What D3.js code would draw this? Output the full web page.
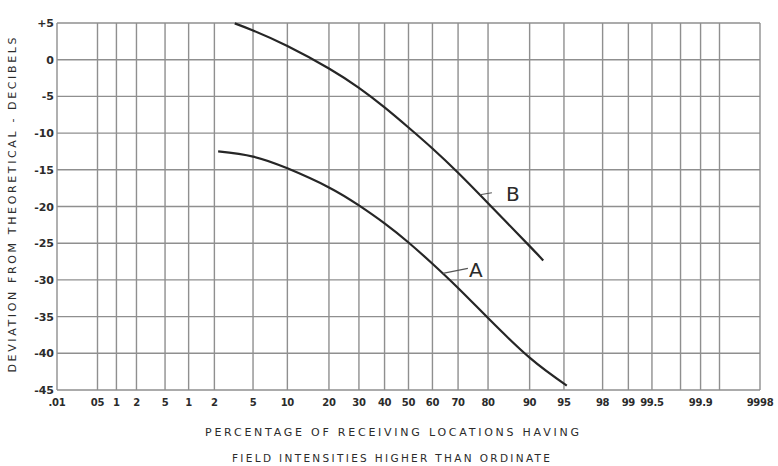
<!DOCTYPE html>
<html>
<head>
<meta charset="utf-8">
<script src="https://cdn.jsdelivr.net/npm/d3@7"></script>
<style>
  body { margin: 0; background: #fff; }
  text { font-family: "DejaVu Sans", sans-serif; fill: #2b2b2b; }
</style>
</head>
<body>
<div id="canvas"></div>
<script>
// probability-paper chart: deviation vs percentage of locations

// x gridlines (percent) and the labels printed under them
var gridPct = [0.01, 0.05, 0.1, 0.2, 0.5, 1, 2, 5, 10, 20, 30, 40, 50, 60, 70, 80, 90, 95, 98, 99, 99.5, 99.8, 99.9, 99.95, 99.99];
var labelPct = [0.01, 0.05, 0.1, 0.2, 0.5, 1, 2, 5, 10, 20, 30, 40, 50, 60, 70, 80, 90, 95, 98, 99, 99.5, 99.9, 99.99];
var labelText = ['.01', '05', '1', '2', '5', '1', '2', '5', '10', '20', '30', '40', '50', '60', '70', '80', '90', '95', '98', '99', '99.5', '99.9', '9998'];

// y ticks (dB)
var yTicks = [5, 0, -5, -10, -15, -20, -25, -30, -35, -40, -45];
var yLabels = ['+5', '0', '-5', '-10', '-15', '-20', '-25', '-30', '-35', '-40', '-45'];

// curve A
var pctA = [2.2, 5, 10, 20, 30, 40, 50, 60, 70, 80, 90, 95.3];
var devA = [-12.5, -13.2, -14.8, -17.4, -19.85, -22.3, -24.9, -27.8, -31.1, -35.2, -40.6, -44.4];

// curve B
var pctB = [3.3, 5, 10, 20, 30, 40, 50, 60, 70, 80, 90, 92.3];
var devB = [4.95, 3.98, 1.87, -1.2, -3.84, -6.5, -9.24, -12.1, -15.4, -19.55, -25.4, -27.35];

// where the label leaders touch the curves
var labA = {pct: 64.2, dev: -29.1, name: 'A'};
var labB = {pct: 77.5, dev: -18.4, name: 'B'};

var outerWidth = 778, outerHeight = 466;
var m = {t:23, r:18, b:76, l:57};
var w = outerWidth - m.l - m.r,
    h = outerHeight - m.t - m.b;

// inverse normal cdf (Acklam)
function probit(p){
  var a = [-39.69683028665376, 220.9460984245205, -275.9285104469687, 138.3577518672690, -30.66479806614716, 2.506628277459239],
      b = [-54.47609879822406, 161.5858368580409, -155.6989798598866, 66.80131188771972, -13.28068155288572],
      c = [-0.007784894002430293, -0.3223964580411365, -2.400758277161838, -2.549732539343734, 4.374664141464968, 2.938163982698783],
      d = [0.007784695709041462, 0.3224671290700398, 2.445134137142996, 3.754408661907416];
  var q, r, pl = 0.02425;
  if (p < pl){
    q = Math.sqrt(-2*Math.log(p));
    return (((((c[0]*q+c[1])*q+c[2])*q+c[3])*q+c[4])*q+c[5]) / ((((d[0]*q+d[1])*q+d[2])*q+d[3])*q+1);
  }
  if (p > 1 - pl){
    q = Math.sqrt(-2*Math.log(1-p));
    return -(((((c[0]*q+c[1])*q+c[2])*q+c[3])*q+c[4])*q+c[5]) / ((((d[0]*q+d[1])*q+d[2])*q+d[3])*q+1);
  }
  q = p - 0.5; r = q*q;
  return (((((a[0]*r+a[1])*r+a[2])*r+a[3])*r+a[4])*r+a[5])*q / (((((b[0]*r+b[1])*r+b[2])*r+b[3])*r+b[4])*r+1);
}

var svg = d3.select('#canvas')
    .append('svg')
    .attr('width', outerWidth)
    .attr('height', outerHeight);

var plot = svg.append('g')
    .attr('transform', 'translate(' + m.l + ',' + m.t + ')');

var scaleX = d3.scaleLinear()
    .domain([probit(0.0001), probit(0.9999)])
    .range([0, w]);
function x(pct){ return scaleX(probit(pct / 100)); }

var y = d3.scaleLinear()
    .domain([-45, 5])
    .range([h, 0]);

// grid
var gridColor = '#8f8f8f';
plot.selectAll('.vgrid')
    .data(gridPct)
  .enter().append('line')
    .attr('class', 'vgrid')
    .attr('x1', function(d){ return x(d); })
    .attr('x2', function(d){ return x(d); })
    .attr('y1', 0)
    .attr('y2', h)
    .attr('stroke', gridColor)
    .attr('stroke-width', 1.4);

plot.selectAll('.hgrid')
    .data(yTicks)
  .enter().append('line')
    .attr('class', 'hgrid')
    .attr('x1', 0)
    .attr('x2', w)
    .attr('y1', function(d){ return y(d); })
    .attr('y2', function(d){ return y(d); })
    .attr('stroke', gridColor)
    .attr('stroke-width', 1.4);

// x tick labels
plot.selectAll('.xlab')
    .data(labelPct)
  .enter().append('text')
    .attr('class', 'xlab')
    .attr('x', function(d){ return x(d); })
    .attr('y', h + 16)
    .attr('text-anchor', 'middle')
    .style('font-size', '10px')
    .style('font-weight', 'bold')
    .style('letter-spacing', '-0.3px')
    .text(function(d, i){ return labelText[i]; });

// y tick labels
plot.selectAll('.ylab')
    .data(yTicks)
  .enter().append('text')
    .attr('class', 'ylab')
    .attr('x', -3)
    .attr('y', function(d){ return y(d) + 4; })
    .attr('text-anchor', 'end')
    .style('font-size', '11px')
    .style('font-weight', 'bold')
    .text(function(d, i){ return yLabels[i]; });

// curves
var line = d3.line()
    .x(function(d){ return x(d[0]); })
    .y(function(d){ return y(d[1]); })
    .curve(d3.curveNatural);

plot.append('path')
    .datum(d3.zip(pctA, devA))
    .attr('d', line)
    .attr('fill', 'none')
    .attr('stroke', '#262626')
    .attr('stroke-width', 2.2);

plot.append('path')
    .datum(d3.zip(pctB, devB))
    .attr('d', line)
    .attr('fill', 'none')
    .attr('stroke', '#262626')
    .attr('stroke-width', 2.2);

// curve labels with short leaders
[[labA, 25, -5, 26, 4], [labB, 12, -2, 26, 6]].forEach(function(l){
  var px = x(l[0].pct), py = y(l[0].dev);
  plot.append('line')
      .attr('x1', px).attr('y1', py)
      .attr('x2', px + l[1]).attr('y2', py + l[2])
      .attr('stroke', '#555').attr('stroke-width', 1.2);
  plot.append('text')
      .attr('x', px + l[3])
      .attr('y', py + l[4])
      .style('font-size', '20px')
      .text(l[0].name);
});

// axis titles
svg.append('text')
    .attr('x', 392)
    .attr('y', 436)
    .attr('text-anchor', 'middle')
    .attr('textLength', 374)
    .attr('lengthAdjust', 'spacing')
    .style('font-size', '11px')
    .text('PERCENTAGE OF RECEIVING LOCATIONS HAVING');

svg.append('text')
    .attr('x', 391)
    .attr('y', 462)
    .attr('text-anchor', 'middle')
    .attr('textLength', 318)
    .attr('lengthAdjust', 'spacing')
    .style('font-size', '10.5px')
    .text('FIELD INTENSITIES HIGHER THAN ORDINATE');

svg.append('text')
    .attr('transform', 'translate(16,205) rotate(-90)')
    .attr('text-anchor', 'middle')
    .attr('textLength', 335)
    .attr('lengthAdjust', 'spacing')
    .style('font-size', '11px')
    .text('DEVIATION FROM THEORETICAL - DECIBELS');
</script>
</body>
</html>
